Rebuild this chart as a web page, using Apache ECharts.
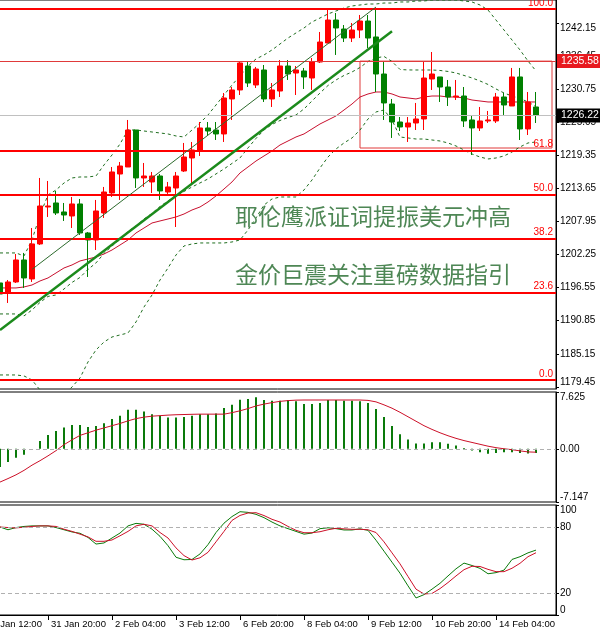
<!DOCTYPE html>
<html>
<head>
<meta charset="utf-8">
<script src="https://cdn.jsdelivr.net/npm/echarts@6/dist/echarts.min.js"></script>
<style>
  html, body { margin: 0; padding: 0; background: #fff; }
  #chart { width: 600px; height: 635px; }
</style>
</head>
<body>
<div id="chart"></div>
<script>
// ---- time axis (4h bars) ----
const dayList = ['31 Jan', '1 Feb', '2 Feb', '3 Feb', '6 Feb', '7 Feb', '8 Feb', '9 Feb', '10 Feb', '13 Feb', '14 Feb'];
const hourList = ['00:00', '04:00', '08:00', '12:00', '16:00', '20:00'];
const categories = ['30 Jan 12:00', '30 Jan 16:00', '30 Jan 20:00'];
dayList.forEach(d => hourList.forEach(h => categories.push(d + ' ' + h)));
categories.push('15 Feb 00:00', '15 Feb 04:00', '15 Feb 08:00');
const LEAD = 2; // two empty bars before the first visible candle

// ---- candles ----
const opens = [1197.36,1195.63,1197.53,1201.32,1198.05,1204.08,1210.45,1211.14,1209.59,1208.90,
  1210.97,1205.97,1204.77,1209.42,1212.86,1216.13,1217.34,1223.71,1215.45,1214.76,
  1215.79,1213.03,1213.72,1216.65,1218.89,1220.10,1224.06,1223.71,1223.03,1229.06,
  1230.61,1234.74,1231.47,1234.05,1229.06,1230.43,1234.74,1233.53,1233.88,1232.67,
  1235.43,1238.70,1242.66,1241.11,1239.56,1240.94,1242.49,1239.74,1233.36,1228.19,
  1225.09,1224.23,1224.92,1225.61,1232.50,1232.85,1231.12,1229.40,1229.57,1225.44,
  1224.06,1225.27,1225.27,1229.40,1227.85,1232.85,1223.89,1227.68];
const closes = [1195.46,1197.53,1201.32,1198.22,1204.08,1210.62,1210.62,1209.42,1209.07,1210.97,
  1205.97,1204.77,1209.76,1213.03,1216.48,1217.51,1223.71,1215.45,1215.79,1215.79,
  1213.21,1213.90,1215.79,1219.06,1220.27,1224.06,1223.54,1223.03,1229.23,1230.61,
  1235.26,1231.81,1234.22,1229.06,1230.61,1234.74,1233.36,1234.05,1232.85,1235.43,
  1238.87,1242.66,1241.29,1239.56,1240.94,1242.49,1239.56,1233.36,1228.37,1225.09,
  1224.23,1224.92,1225.61,1232.67,1233.36,1231.12,1229.40,1229.57,1225.27,1224.06,
  1225.27,1225.44,1229.40,1228.02,1232.85,1223.89,1228.54,1226.22];
const lows = [1193.22,1193.91,1197.36,1196.50,1197.53,1203.90,1208.73,1209.07,1208.04,1206.83,
  1205.63,1198.39,1203.04,1208.56,1212.17,1211.66,1217.34,1213.72,1213.90,1212.86,
  1211.66,1212.69,1207.00,1216.48,1214.58,1219.24,1222.85,1221.99,1221.65,1225.44,
  1229.74,1231.12,1230.95,1228.54,1227.68,1229.40,1232.33,1229.74,1230.78,1230.61,
  1235.26,1238.70,1236.64,1238.87,1238.87,1239.56,1237.84,1230.26,1225.44,1222.34,
  1223.54,1221.65,1223.71,1223.71,1230.61,1228.54,1227.85,1228.88,1224.23,1219.41,
  1223.54,1224.92,1224.92,1226.30,1227.85,1221.99,1222.85,1224.92];
const highs = [1197.70,1197.87,1202.35,1202.53,1206.83,1215.45,1214.93,1213.21,1211.14,1212.17,
  1211.83,1206.14,1211.66,1213.90,1217.34,1218.20,1225.44,1223.71,1218.03,1216.48,
  1216.13,1214.76,1216.48,1221.48,1221.65,1225.09,1225.09,1225.09,1230.09,1231.12,
  1235.60,1235.60,1234.57,1234.91,1231.81,1235.77,1235.77,1234.74,1234.40,1236.12,
  1240.60,1244.40,1243.87,1241.80,1242.15,1243.53,1243.53,1244.56,1235.43,1229.06,
  1225.95,1225.95,1228.37,1235.43,1237.15,1232.85,1232.33,1232.33,1231.12,1226.13,
  1227.68,1226.99,1230.09,1230.09,1234.40,1234.40,1230.26,1230.26];

// ---- bands and moving average ----
const bbUpper = [1202.53,1202.53,1202.53,1202.01,1204.77,1209.07,1212.52,1213.38,1214.58,1215.45,
  1215.62,1215.62,1215.79,1217.69,1219.41,1221.30,1223.71,1223.71,1223.54,1223.37,
  1223.20,1223.03,1222.68,1222.51,1223.71,1224.92,1226.30,1228.02,1229.74,1231.47,
  1233.02,1234.74,1235.95,1236.64,1237.50,1238.53,1239.56,1240.43,1241.29,1242.32,
  1243.01,1243.70,1244.22,1244.73,1245.08,1245.25,1245.42,1245.42,1245.59,1245.59,
  1245.77,1245.77,1245.94,1245.94,1246.11,1246.11,1246.11,1246.11,1245.94,1245.77,
  1245.25,1244.39,1242.66,1240.94,1239.22,1237.50,1235.60,1233.88];
const bbMid = [1192.02,1192.02,1192.02,1191.68,1192.71,1194.00,1195.04,1195.29,1196.32,1197.45,
  1198.31,1199.69,1200.81,1202.44,1203.73,1204.85,1206.23,1207.18,1208.38,1209.33,
  1210.54,1211.49,1212.43,1213.12,1213.90,1214.59,1215.28,1216.14,1217.00,1217.95,
  1218.90,1220.62,1222.26,1223.72,1224.67,1225.35,1225.87,1226.30,1227.34,1228.71,
  1230.09,1231.38,1232.33,1233.11,1233.71,1234.48,1235.52,1236.12,1236.38,1235.52,
  1234.14,1234.06,1234.05,1234.05,1234.05,1233.97,1233.80,1233.54,1233.11,1232.68,
  1232.16,1231.56,1230.78,1230.09,1229.57,1229.15,1228.54,1227.77];
const bbLower = [1181.51,1181.51,1181.51,1181.34,1180.65,1178.92,1177.55,1177.20,1178.06,1179.44,
  1180.99,1183.75,1185.82,1187.19,1188.05,1188.40,1188.74,1190.64,1193.22,1195.29,
  1197.87,1199.94,1202.18,1203.73,1204.08,1204.25,1204.25,1204.25,1204.25,1204.42,
  1204.77,1206.49,1208.56,1210.79,1211.83,1212.17,1212.17,1212.17,1213.38,1215.10,
  1217.17,1219.06,1220.44,1221.48,1222.34,1223.71,1225.61,1226.82,1227.16,1225.44,
  1222.51,1222.34,1222.16,1222.16,1221.99,1221.82,1221.48,1220.96,1220.27,1219.58,
  1219.06,1218.72,1218.89,1219.24,1219.92,1220.79,1221.48,1221.65];
const maRed = [1196.50,1196.50,1196.50,1196.67,1197.01,1197.70,1198.22,1199.08,1199.94,1200.46,
  1201.15,1201.49,1201.84,1202.35,1203.04,1203.90,1204.77,1205.97,1206.83,1207.69,
  1208.04,1208.38,1208.73,1209.24,1209.93,1210.45,1211.31,1212.35,1213.55,1214.76,
  1216.31,1217.34,1218.37,1219.24,1220.10,1221.13,1221.82,1222.51,1223.03,1223.89,
  1224.75,1225.44,1226.13,1227.16,1228.19,1229.40,1229.92,1230.26,1230.26,1229.92,
  1229.40,1229.23,1229.06,1229.40,1229.57,1229.57,1229.40,1229.40,1229.23,1228.88,
  1228.71,1228.54,1228.54,1228.54,1228.54,1228.54,1228.54,1228.54];

// ---- MACD ----
const macdHist = [-2.44,-1.76,-1.2,-0.8,0,1.04,1.84,2.38,2.85,3.2,
  3.2,2.93,3.06,3.43,4.01,4.42,5.23,5.23,5.01,4.65,
  4.42,4.2,4.2,4.28,4.42,4.65,4.65,4.74,5.46,5.91,
  6.59,6.68,6.91,6.55,6.45,6.45,6.55,6.37,6.0,6.0,
  6.14,6.55,6.55,6.45,6.45,6.37,6.14,5.33,4.28,3.06,
  1.94,1.26,0.72,0.72,0.89,0.89,0.68,0.45,0.1,-0.23,
  -0.46,-0.68,-0.55,-0.46,-0.46,-0.55,-0.64,-0.55];
const macdSignal = [-4.47,-4.0,-3.5,-2.9,-2.2,-1.6,-0.95,-0.25,0.55,1.2,
  1.8,2.15,2.5,2.8,3.1,3.4,3.75,4.05,4.25,4.38,
  4.45,4.52,4.57,4.6,4.63,4.65,4.65,4.65,4.65,4.85,
  5.1,5.4,5.75,6.0,6.2,6.37,6.47,6.53,6.55,6.55,
  6.55,6.55,6.55,6.55,6.55,6.55,6.5,6.3,5.9,5.45,
  4.9,4.3,3.7,3.1,2.6,2.15,1.75,1.4,1.1,0.85,
  0.6,0.35,0.15,0.0,-0.12,-0.28,-0.42,-0.46];

// ---- Stochastic ----
const stochK = [80,77.5,79.5,80.5,81,81,81,79.5,77.5,75.5,
  74.3,70.5,64.5,65.5,70,74.5,81,83.3,82.5,78,
  71.5,63,52.5,50.2,50.5,55.5,64,75,83.5,89.5,
  93.9,93.3,91.5,88.5,84.5,81,78.5,76,73.5,74.5,
  78.5,79.3,78.5,77.3,77.3,78.3,77,68,58,48,
  38,26.5,15.5,18.5,23.5,28.8,35.5,42,47.2,45,
  42.4,37.5,38.5,40.8,50.5,53,56.5,59];
const stochD = [80,79.5,79.2,79.8,80.5,81,81,80.5,78,76,
  73.5,71,67,67,68.2,72,76,81,82.5,81,
  75,70,61,54,50,52,57,66.5,76,86,
  90.5,92.7,93,90.4,87,84.5,80.5,77,74.8,74.8,
  75.7,77.5,78.8,78.3,77.9,77.9,77.5,75,66.5,56.5,
  46.5,35,23.5,19.1,19.6,24,29.5,35.5,41.2,44.3,
  44.1,41.5,39.4,39.4,42.5,47,53,56.6];

// ---- scales, levels and drawings ----
const priceTicks = [1179.45,1185.15,1190.85,1196.55,1202.25,1207.95,1213.65,1219.35,1225.05,1230.75,1236.45,1242.15];
const macdTicks = [-7.147, 0, 7.625];
const stochTicks = [0, 20, 80, 100];
const fibPrices = [1180.65, 1195.73, 1205.06, 1212.61, 1220.15, 1244.56];
const fibNames = ['0.0', '23.6', '38.2', '50.0', '61.8', '100.0'];
const boxTop = 1235.58, boxBottom = 1220.61, boxFrom = 45;
const lastPrice = 1226.22;
const trendMain = [[0, 1189.26], [49, 1240.72]];
const trendThin = [[4, 1199.70], [47, 1244.90]];
const headline = ['耶伦鹰派证词提振美元冲高', '金价巨震关注重磅数据指引'];

const pad = arr => [null, null].concat(arr);
const cat = k => categories[k + LEAD];
const FONT = '"Liberation Sans", Arial, sans-serif';
const RED = '#ff0000', GREEN = '#008000';

const candleData = ['-', '-'].concat(opens.map((o, i) => [o, closes[i], lows[i], highs[i]]));

const dashed = { color: '#1f6e1f', width: 1, type: [3, 3] };

const chart = echarts.init(document.getElementById('chart'));

const grids = [
  { left: -20, width: 576, top: 0, height: 389 },
  { left: -20, width: 576, top: 392, height: 110 },
  { left: -20, width: 576, top: 505, height: 110 }
].map(g => Object.assign(g, { show: true, borderColor: '#000', borderWidth: 1, backgroundColor: 'transparent', outerBoundsMode: 'none' }));

const hiddenX = idx => ({
  type: 'category', gridIndex: idx, data: categories, boundaryGap: true, show: false
});

const rightY = (idx, min, max, ticks, fmt) => ({
  type: 'value', gridIndex: idx, position: 'right', min: min, max: max,
  axisLine: { show: true, lineStyle: { color: '#000' } },
  axisTick: { show: true, length: 3, customValues: ticks, lineStyle: { color: '#000' } },
  axisLabel: {
    customValues: ticks, formatter: fmt, fontSize: 10, color: '#000', margin: 4,
    fontFamily: FONT, verticalAlignMaxLabel: 'top', verticalAlignMinLabel: 'bottom'
  },
  splitLine: { show: false }
});

const option = {
  animation: false,
  backgroundColor: '#fff',
  grid: grids,
  xAxis: [
    hiddenX(0),
    hiddenX(1),
    {
      type: 'category', gridIndex: 2, data: categories, boundaryGap: true,
      axisLine: { show: true, lineStyle: { color: '#000' } },
      axisTick: { show: true, interval: 7, alignWithLabel: true, length: 5, lineStyle: { color: '#000' } },
      axisLabel: { interval: 7, align: 'left', padding: [0, 0, 0, 3], fontSize: 9.5, color: '#000', margin: 4, fontFamily: FONT },
      splitLine: { show: false }
    }
  ],
  yAxis: [
    rightY(0, 1179.09, 1246.11, priceTicks, v => v.toFixed(2)),
    rightY(1, -7.147, 7.625, macdTicks, v => (v === 0 ? '0.00' : v.toFixed(3))),
    rightY(2, 0, 100, stochTicks, v => String(Math.round(v)))
  ],
  graphic: headline.map((t, i) => ({
    type: 'text', x: 235, y: 216 + i * 58, z: 10,
    style: { text: t, fontSize: 23, fontFamily: '"Noto Sans CJK SC", sans-serif', fill: '#4e8755', verticalAlign: 'middle' }
  })),
  series: [
    {
      type: 'line', xAxisIndex: 0, yAxisIndex: 0, data: pad(bbUpper),
      symbol: 'none', lineStyle: dashed, silent: true, z: 1
    },
    {
      type: 'line', xAxisIndex: 0, yAxisIndex: 0, data: pad(bbMid),
      symbol: 'none', lineStyle: dashed, silent: true, z: 1
    },
    {
      type: 'line', xAxisIndex: 0, yAxisIndex: 0, data: pad(bbLower),
      symbol: 'none', lineStyle: dashed, silent: true, z: 1
    },
    {
      type: 'line', xAxisIndex: 0, yAxisIndex: 0, data: pad(maRed),
      symbol: 'none', lineStyle: { color: '#c8102e', width: 1 }, silent: true, z: 1
    },
    {
      type: 'candlestick', xAxisIndex: 0, yAxisIndex: 0, data: candleData, barWidth: 5,
      itemStyle: { color: RED, color0: GREEN, borderColor: RED, borderColor0: GREEN, borderWidth: 1 },
      z: 3,
      markArea: {
        silent: true,
        itemStyle: { color: 'rgba(0,0,0,0)', borderColor: '#e03a3a', borderWidth: 1 },
        data: [[{ coord: [cat(boxFrom), boxTop] }, { coord: [categories[categories.length - 1], boxBottom] }]]
      },
      markLine: {
        silent: true, symbol: 'none', animation: false,
        data: fibPrices.map((p, i) => ({
          yAxis: p,
          lineStyle: { color: RED, width: 2, type: 'solid' },
          label: { show: true, position: 'insideEndTop', formatter: fibNames[i], color: RED, fontSize: 10, fontFamily: FONT, distance: [3, 1] }
        })).concat([
          {
            yAxis: boxTop,
            lineStyle: { color: '#e03a3a', width: 1, type: 'solid' },
            label: { show: true, position: 'end', formatter: boxTop.toFixed(2), color: '#fff', backgroundColor: '#e8191f', padding: [2, 4, 1, 4], fontSize: 10.5, fontFamily: FONT, distance: 1 }
          },
          {
            yAxis: lastPrice,
            lineStyle: { color: '#c0c0c0', width: 1, type: 'solid' },
            label: { show: true, position: 'end', formatter: lastPrice.toFixed(2), color: '#fff', backgroundColor: '#000', padding: [2, 4, 1, 4], fontSize: 10.5, fontFamily: FONT, distance: 1 }
          },
          [
            { coord: [cat(trendMain[0][0]), trendMain[0][1]], lineStyle: { color: '#1b8a1b', width: 2.5, type: 'solid' }, label: { show: false } },
            { coord: [cat(trendMain[1][0]), trendMain[1][1]] }
          ],
          [
            { coord: [cat(trendThin[0][0]), trendThin[0][1]], lineStyle: { color: '#2d6b2d', width: 1, type: 'solid' }, label: { show: false } },
            { coord: [cat(trendThin[1][0]), trendThin[1][1]] }
          ]
        ])
      }
    },
    {
      type: 'bar', xAxisIndex: 1, yAxisIndex: 1, data: pad(macdHist), barWidth: 2,
      itemStyle: { color: '#0a7a0a' }, silent: true,
      markLine: {
        silent: true, symbol: 'none', label: { show: false },
        lineStyle: { color: '#b0b0b0', width: 1, type: [4, 3] },
        data: [{ yAxis: 0 }]
      }
    },
    {
      type: 'line', xAxisIndex: 1, yAxisIndex: 1, data: pad(macdSignal),
      symbol: 'none', lineStyle: { color: '#cc1028', width: 1 }, silent: true
    },
    {
      type: 'line', xAxisIndex: 2, yAxisIndex: 2, data: pad(stochK),
      symbol: 'none', lineStyle: { color: '#0a7a0a', width: 1 }, silent: true,
      markLine: {
        silent: true, symbol: 'none', label: { show: false },
        lineStyle: { color: '#b0b0b0', width: 1, type: [4, 3] },
        data: [{ yAxis: 20 }, { yAxis: 80 }]
      }
    },
    {
      type: 'line', xAxisIndex: 2, yAxisIndex: 2, data: pad(stochD),
      symbol: 'none', lineStyle: { color: '#cc1028', width: 1 }, silent: true
    }
  ]
};

chart.setOption(option);
</script>
</body>
</html>
